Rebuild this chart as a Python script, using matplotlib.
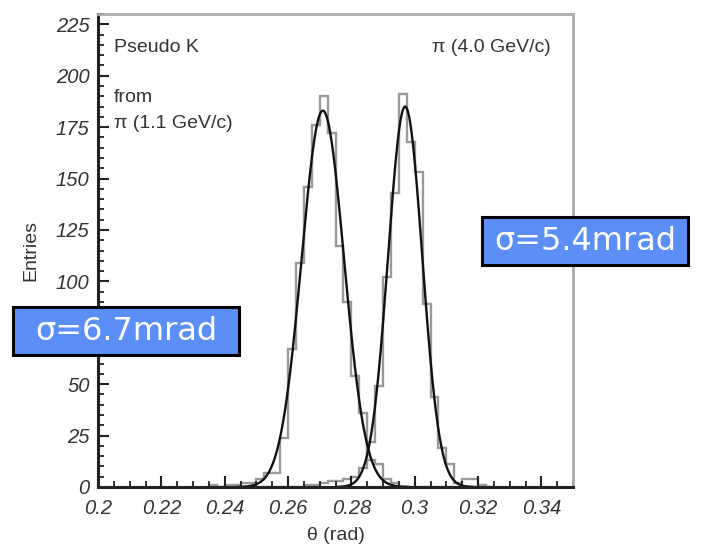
import numpy as np
import matplotlib
matplotlib.use("Agg")
import matplotlib.pyplot as plt
from matplotlib.patches import Rectangle
from matplotlib.ticker import MultipleLocator

# ---- data ----
bin_edges = [round(0.235 + 0.0025 * k, 4) for k in range(37)]
counts_k = [1, 0, 1, 1, 2, 2, 4, 7, 7, 24, 67, 109, 146, 176, 190, 172, 117, 90,
            54, 36, 13, 11, 4, 2, 0, 0, 0, 0, 0, 0, 0, 0, 0, 0, 0, 0]
counts_pi = [0, 0, 0, 0, 0, 0, 0, 0, 0, 0, 0, 0, 1, 1, 2, 3, 3, 4,
             5, 9, 22, 49, 102, 143, 191, 168, 153, 89, 44, 19, 11, 2, 4, 4, 1, 0]
fit_k = dict(amp=183.0, mean=0.2710, sigma=0.0067)
fit_pi = dict(amp=185.0, mean=0.2970, sigma=0.0054)
x_ticks = [0.2, 0.22, 0.24, 0.26, 0.28, 0.3, 0.32, 0.34]
x_ticklabels = ["0.2", "0.22", "0.24", "0.26", "0.28", "0.3", "0.32", "0.34"]
y_ticks = [0, 25, 50, 75, 100, 125, 150, 175, 200, 225]

W, H = 706, 546
fig = plt.figure(figsize=(W / 100, H / 100), dpi=100)
ax = fig.add_axes([98 / W, 1 - 487 / H, (573 - 98) / W, (487 - 14) / H])

hist_col = "#999999"
ax.stairs(counts_k, bin_edges, color=hist_col, lw=1.7)
ax.stairs(counts_pi, bin_edges, color=hist_col, lw=1.7)

for f in (fit_k, fit_pi):
    xs = np.linspace(f["mean"] - 4 * f["sigma"], f["mean"] + 4 * f["sigma"], 300)
    ys = f["amp"] * np.exp(-0.5 * ((xs - f["mean"]) / f["sigma"]) ** 2)
    ax.plot(xs, ys, color="#111111", lw=1.7)

ax.set_xlim(0.2, 0.35)
ax.set_ylim(0, 230)
ax.set_xticks(x_ticks)
ax.set_xticklabels(x_ticklabels)
ax.set_yticks(y_ticks)
ax.xaxis.set_minor_locator(MultipleLocator(0.005))
ax.yaxis.set_minor_locator(MultipleLocator(5))
ax.tick_params(which="both", direction="in", top=False, right=False, colors="#222222")
ax.tick_params(which="major", length=8, width=1.5)
ax.tick_params(which="minor", length=4, width=1.3)
ax.tick_params(axis="x", pad=9)
ax.tick_params(axis="y", pad=6)

for lab in ax.get_xticklabels() + ax.get_yticklabels():
    lab.set_fontfamily("Liberation Sans")
    lab.set_fontstyle("italic")
    lab.set_fontsize(14.5)
    lab.set_color("#333333")

for s in ("left", "bottom"):
    ax.spines[s].set_color("#222222")
    ax.spines[s].set_linewidth(2.2)
for s in ("top", "right"):
    ax.spines[s].set_color("#aaaaaa")
    ax.spines[s].set_linewidth(2)

tfont = dict(family="Liberation Sans", fontsize=14, color="#333333")
ax.set_xlabel("θ (rad)", labelpad=6, **tfont)
ax.set_ylabel("Entries", labelpad=12, **tfont)

fig.text(114 / W, 1 - 48 / H, "Pseudo K", ha="left", va="center", **tfont)
fig.text(114 / W, 1 - 98 / H, "from", ha="left", va="center", **tfont)
fig.text(114 / W, 1 - 124 / H, "π (1.1 GeV/c)", ha="left", va="center", **tfont)
fig.text(551 / W, 1 - 48 / H, "π (4.0 GeV/c)", ha="right", va="center", **tfont)

box_col = "#5b8ef7"
def label_box(x0, y0, x1, y1, text):
    r = Rectangle((x0 / W, 1 - y1 / H), (x1 - x0) / W, (y1 - y0) / H,
                  transform=fig.transFigure, facecolor=box_col,
                  edgecolor="black", lw=2.2, zorder=10)
    fig.patches.append(r)
    fig.text((x0 + x1) / 2 / W, 1 - (y0 + y1) / 2 / H, text, ha="center",
             va="center", color="white", fontsize=23, family="DejaVu Sans",
             zorder=11)

label_box(13, 307, 239, 355, "σ=6.7mrad")
label_box(482, 217, 688, 265, "σ=5.4mrad")

fig.savefig("out.png", dpi=100)
